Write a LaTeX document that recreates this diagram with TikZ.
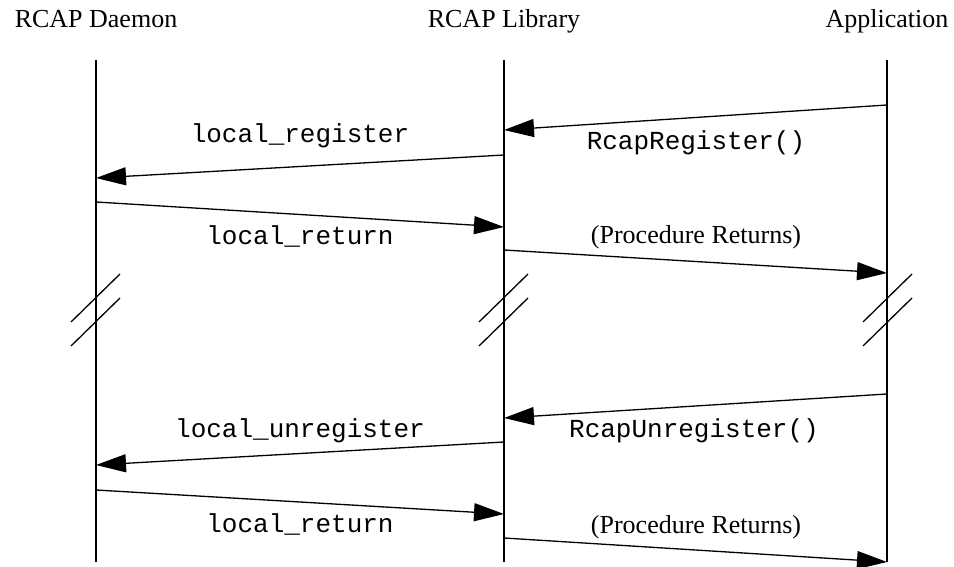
\documentclass[tikz,border=0pt]{standalone}
\usepackage{fontspec}
\setmainfont{Liberation Serif}
\setmonofont{Liberation Mono}
\usetikzlibrary{arrows.meta}
\tikzset{
  life/.style={line width=0.75pt},
  msg/.style={-{Triangle[length=15pt,width=9pt]}, line width=0.65pt},
  brk/.style={line width=0.65pt},
  lbl/.style={anchor=base, inner sep=0pt, font=\fontsize{13}{15}\selectfont},
  clbl/.style={lbl, font=\fontsize{13}{15}\selectfont\ttfamily}
}
\begin{document}
\begin{tikzpicture}[x=0.5pt, y=-0.5pt]
\useasboundingbox (0,0) rectangle (954,567);
\node[lbl] (hdmn) at (96,28){RCAP Daemon};
\node[lbl] (hlib) at (504,28){RCAP Library};
\node[lbl] (happ) at (887,28){Application};
\coordinate (dtop) at (96,60);
\coordinate (dbot) at (96,562);
\coordinate (ltop) at (504,60);
\coordinate (lbot) at (504,562);
\coordinate (atop) at (887,60);
\coordinate (abot) at (887,562);
\draw[life](dtop) -- (dbot);
\draw[life](ltop) -- (lbot);
\draw[life](atop) -- (abot);
% register
\coordinate (a1) at (887,105);
\coordinate (l1) at (504,130);
\draw[msg](a1) -- (l1);
\node[clbl] (m1) at (696,149){RcapRegister()};
\coordinate (l2) at (504,155);
\coordinate (d2) at (96,178);
\draw[msg](l2) -- (d2);
\node[clbl] (m2) at (300,143){local\_register};
\coordinate (d3) at (96,202);
\coordinate (l3) at (504,227);
\draw[msg](d3) -- (l3);
\node[clbl] (m3) at (300,244){local\_return};
\coordinate (l4) at (504,250);
\coordinate (a4) at (887,273);
\draw[msg](l4) -- (a4);
\node[lbl] (m4) at (696,243){(Procedure Returns)};
% breaks
\draw[brk](71,322) -- (120,274);
\draw[brk](71,346) -- (120,298);
\draw[brk](479,322) -- (528,274);
\draw[brk](479,346) -- (528,298);
\draw[brk](863,322) -- (912,274);
\draw[brk](863,346) -- (912,298);
% unregister
\coordinate (a5) at (887,394);
\coordinate (l5) at (504,418);
\draw[msg](a5) -- (l5);
\node[clbl] (m5) at (694,437){RcapUnregister()};
\coordinate (l6) at (504,442);
\coordinate (d6) at (96,465);
\draw[msg](l6) -- (d6);
\node[clbl] (m6) at (300,437){local\_unregister};
\coordinate (d7) at (96,490);
\coordinate (l7) at (504,514);
\draw[msg](d7) -- (l7);
\node[clbl] (m7) at (300,532){local\_return};
\coordinate (l8) at (504,538);
\coordinate (a8) at (887,562);
\draw[msg](l8) -- (a8);
\node[lbl] (m8) at (696,533){(Procedure Returns)};
\end{tikzpicture}
\end{document}
